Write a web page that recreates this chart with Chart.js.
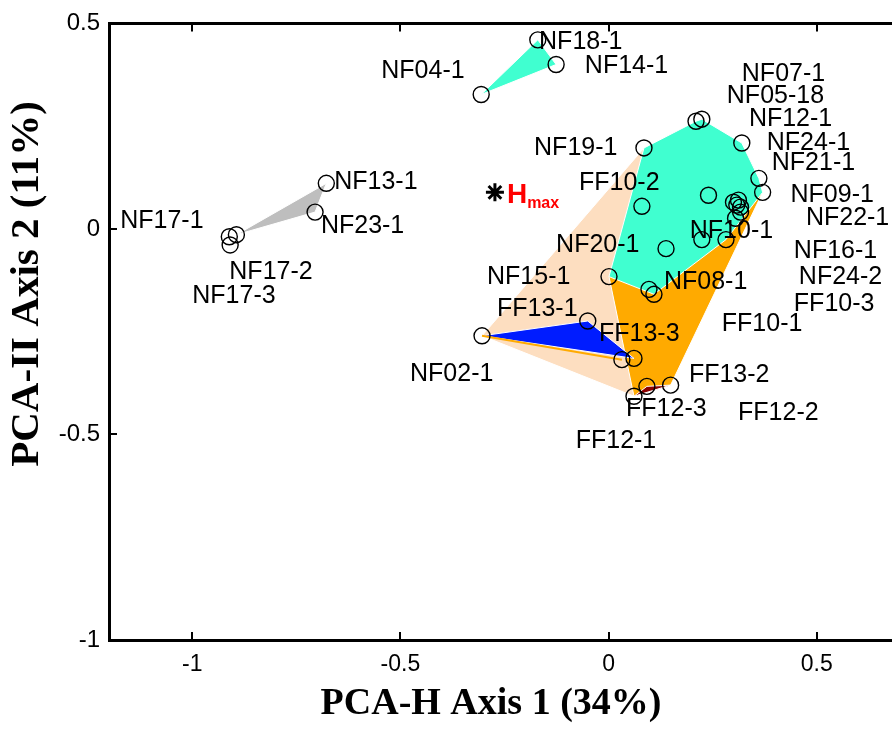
<!DOCTYPE html>
<html>
<head>
<meta charset="utf-8">
<title>PCA-H</title>
<script src="https://cdn.jsdelivr.net/npm/chart.js@4/dist/chart.umd.min.js"></script>
<style>
  html, body { margin: 0; padding: 0; background: #fff; overflow: hidden; }
  canvas { display: block; }
</style>
</head>
<body>
<canvas id="pcaChart" width="920" height="729"></canvas>
<script>
// Coordenadas de las muestras (circulos)
const ptX = [-0.911, -0.894, -0.909, -0.678, -0.705, -0.306, -0.170, -0.126,
  0.085, 0.210, 0.224, 0.320, 0.361, 0.370, 0.240, 0.080, 0.300, 0.312, 0.308,
  0.317, 0.317, 0.305, 0.224, 0.282, 0.138, 0.001, 0.097, 0.109, -0.050, 0.032,
  0.061, -0.304, 0.061, 0.092, 0.149];
const ptY = [-0.019, -0.014, -0.039, 0.111, 0.041, 0.327, 0.460, 0.400,
  0.197, 0.262, 0.267, 0.209, 0.123, 0.089, 0.082, 0.055, 0.065, 0.070, 0.058,
  0.053, 0.041, 0.026, -0.026, -0.026, -0.048, -0.116, -0.147, -0.159, -0.224, -0.318,
  -0.315, -0.260, -0.407, -0.383, -0.380];

// Grupos (indices de ptX/ptY) -> poligonos
const grpPeach = [8, 31, 32];
const grpOrange = [25, 32, 34, 13];
const grpTurq = [8, 9, 10, 11, 12, 13, 23, 27, 25];
const grpBlue = [31, 28, 30];
const grpOrangeLine = [31, 29];
const grpDarkRed = [32, 33, 34];
const grpGray = [1, 3, 4];
const grpTurqSmall = [5, 6, 7];

// Etiquetas de texto
const labelText = ['NF04-1', 'NF18-1', 'NF14-1', 'NF07-1', 'NF05-18', 'NF12-1', 'NF24-1', 'NF21-1',
  'NF19-1', 'FF10-2', 'NF09-1', 'NF22-1', 'NF10-1', 'NF20-1', 'NF16-1', 'NF24-2', 'NF15-1',
  'NF08-1', 'FF10-3', 'FF13-1', 'FF10-1', 'FF13-3', 'NF02-1', 'FF13-2', 'FF12-3', 'FF12-2',
  'FF12-1', 'NF13-1', 'NF23-1', 'NF17-1', 'NF17-2', 'NF17-3'];
const labelX = [-0.546, -0.167, -0.057, 0.320, 0.284, 0.337, 0.380, 0.392,
  -0.179, -0.071, 0.437, 0.474, 0.195, -0.126, 0.445, 0.457, -0.292,
  0.133, 0.445, -0.268, 0.272, -0.023, -0.477, 0.193, 0.042, 0.311,
  -0.079, -0.659, -0.691, -1.173, -0.911, -1.000];
const labelY = [0.383, 0.455, 0.397, 0.376, 0.323, 0.267, 0.209, 0.159,
  0.197, 0.111, 0.082, 0.026, -0.005, -0.039, -0.053, -0.118, -0.118,
  -0.130, -0.183, -0.195, -0.231, -0.255, -0.352, -0.356, -0.438, -0.448,
  -0.515, 0.113, 0.007, 0.019, -0.106, -0.164];

// Punto Hmax
const hmaxX = [-0.273];
const hmaxY = [0.089];

const xTicks = [-1, -0.5, 0, 0.5];
const yTicks = [-1, -0.5, 0, 0.5];

function poly(idx) {
  const pts = idx.map(i => ({ x: ptX[i], y: ptY[i] }));
  pts.push(pts[0]);
  return pts;
}

function polyDataset(idx, color) {
  return {
    type: 'line',
    data: poly(idx),
    backgroundColor: color,
    borderColor: '#ffffff',
    borderWidth: 1,
    fill: 'shape',
    pointRadius: 0,
    tension: 0
  };
}

// de abajo hacia arriba
const layers = [
  polyDataset(grpPeach, 'rgb(253,222,192)'),
  polyDataset(grpOrange, 'rgb(255,170,0)'),
  polyDataset(grpTurq, 'rgb(64,255,208)'),
  polyDataset(grpBlue, 'rgb(0,28,255)'),
  { type: 'line', data: poly(grpOrangeLine).slice(0, 2), borderColor: 'rgb(255,170,0)', borderWidth: 2, fill: false, pointRadius: 0 },
  polyDataset(grpDarkRed, 'rgb(140,0,0)'),
  polyDataset(grpGray, 'rgb(190,190,190)'),
  polyDataset(grpTurqSmall, 'rgb(64,255,208)'),
  {
    type: 'scatter',
    data: ptX.map((v, i) => ({ x: v, y: ptY[i] })),
    pointRadius: 8,
    pointBorderWidth: 1.4,
    pointBorderColor: '#000',
    pointBackgroundColor: 'rgba(0,0,0,0)'
  },
  {
    type: 'scatter',
    data: hmaxX.map((v, i) => ({ x: v, y: hmaxY[i] })),
    pointStyle: 'star',
    pointRadius: 9,
    pointBorderWidth: 3,
    pointBorderColor: '#000'
  }
];

const textPlugin = {
  id: 'textos',
  afterDatasetsDraw(chart) {
    const { ctx, scales: { x, y } } = chart;
    ctx.save();
    ctx.fillStyle = '#000';
    ctx.textBaseline = 'middle';
    ctx.textAlign = 'left';
    ctx.font = '25px "Liberation Sans", Arial, sans-serif';
    labelText.forEach((t, i) => {
      ctx.fillText(t, x.getPixelForValue(labelX[i]), y.getPixelForValue(labelY[i]));
    });
    // H max en rojo
    const hx = x.getPixelForValue(hmaxX[0]) + 12;
    const hy = y.getPixelForValue(hmaxY[0]);
    ctx.fillStyle = '#ff0000';
    ctx.textBaseline = 'alphabetic';
    ctx.font = 'bold 28px "Liberation Sans", Arial, sans-serif';
    ctx.fillText('H', hx, hy + 11);
    const w = ctx.measureText('H').width;
    ctx.font = 'bold 16px "Liberation Sans", Arial, sans-serif';
    ctx.fillText('max', hx + w, hy + 16);
    ctx.restore();
  },
  afterDraw(chart) {
    const { ctx, chartArea: a, scales: { x, y } } = chart;
    ctx.save();
    // marcas de los ejes hacia adentro (estilo MATLAB)
    ctx.strokeStyle = '#000';
    ctx.lineWidth = 2;
    ctx.beginPath();
    xTicks.forEach(v => {
      const px = Math.round(x.getPixelForValue(v));
      ctx.moveTo(px, a.bottom); ctx.lineTo(px, a.bottom - 8);
      ctx.moveTo(px, a.top); ctx.lineTo(px, a.top + 8);
    });
    yTicks.forEach(v => {
      const py = Math.round(y.getPixelForValue(v));
      ctx.moveTo(a.left, py); ctx.lineTo(a.left + 8, py);
    });
    ctx.stroke();

    ctx.fillStyle = '#000';
    ctx.font = 'bold 38px "Liberation Serif", "Times New Roman", serif';
    ctx.textAlign = 'center';
    ctx.textBaseline = 'middle';
    ctx.fillText('PCA-H Axis 1 (34%)', 491, 704);
    ctx.translate(27, 284);
    ctx.rotate(-Math.PI / 2);
    ctx.font = 'bold 41px "Liberation Serif", "Times New Roman", serif';
    ctx.fillText('PCA-II Axis 2 (11%)', 0, 0);
    ctx.restore();
  }
};

const fmt = v => String(v);

new Chart(document.getElementById('pcaChart'), {
  type: 'scatter',
  data: { datasets: layers.slice().reverse() },
  options: {
    responsive: false,
    animation: false,
    devicePixelRatio: 1,
    layout: { padding: { left: 0, top: 17, right: 20, bottom: 0 } },
    plugins: { legend: { display: false }, tooltip: { enabled: false } },
    scales: {
      x: {
        type: 'linear', position: 'bottom', min: -1.2, max: 0.7,
        afterFit: s => { s.height = 89; },
        afterBuildTicks: s => { s.ticks = xTicks.map(v => ({ value: v })); },
        ticks: { color: '#000', font: { family: '"Liberation Sans", Arial, sans-serif', size: 23 }, padding: 11, callback: fmt },
        grid: { display: true, drawOnChartArea: false, drawTicks: false },
        border: { color: '#000', width: 3 }
      },
      x2: {
        type: 'linear', position: 'top', min: -1.2, max: 0.7,
        afterFit: s => { s.height = 0; },
        ticks: { display: false },
        grid: { drawOnChartArea: false, drawTicks: false },
        border: { color: '#000', width: 3 }
      },
      y: {
        type: 'linear', position: 'left', min: -1, max: 0.5,
        afterFit: s => { s.width = 109; },
        afterBuildTicks: s => { s.ticks = yTicks.map(v => ({ value: v })); },
        ticks: { color: '#000', font: { family: '"Liberation Sans", Arial, sans-serif', size: 24 }, padding: 9, callback: fmt },
        grid: { drawOnChartArea: false, drawTicks: false },
        border: { color: '#000', width: 3 }
      }
    }
  },
  plugins: [textPlugin]
});
</script>
</body>
</html>
